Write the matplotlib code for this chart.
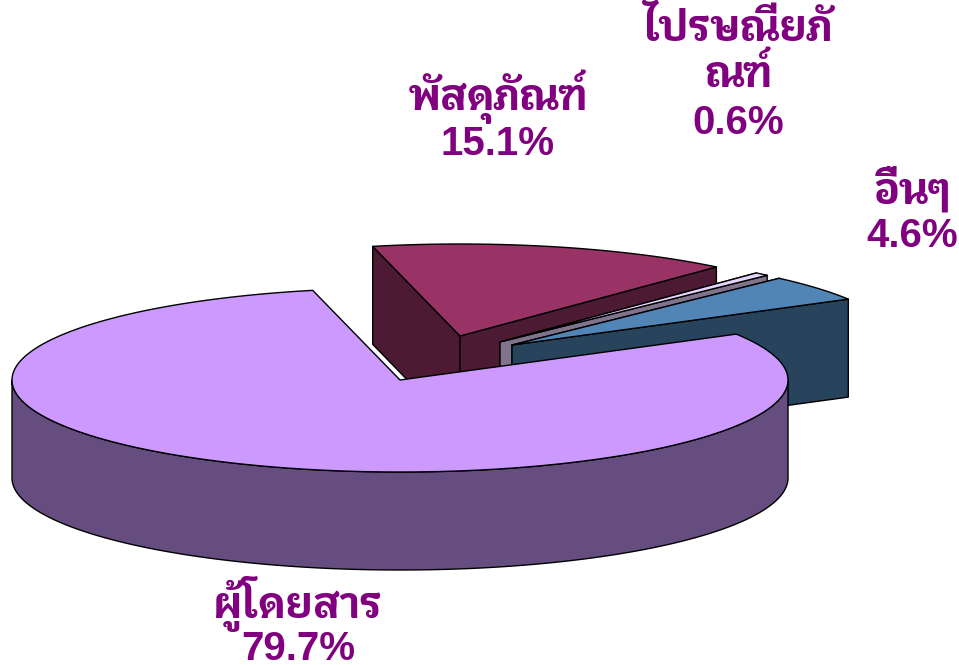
import numpy as np
import matplotlib
matplotlib.use('Agg')
import matplotlib.pyplot as plt
from matplotlib.patches import Polygon

categories = ["ผู้โดยสาร", "พัสดุภัณฑ์", "ไปรษณียภัณฑ์", "อื่นๆ"]
values = [79.7, 15.1, 0.6, 4.6]
value_labels = ["79.7%", "15.1%", "0.6%", "4.6%"]
top_colors = ["#CC99FF", "#993366", "#E6D5FF", "#5085B5"]
side_colors = ["#664D80", "#4D1A33", "#80738C", "#28435C"]

RX, RY, DEPTH = 388, 92, 98
START = 103.0
apexes = [(400, 380), (460, 336), (500, 342), (512, 345)]
TEXT = "#800080"
THAI = ['Krub', 'Sarabun', 'Noto Sans Thai', 'Liberation Sans', 'DejaVu Sans']
LATIN = ['Liberation Sans', 'DejaVu Sans']

fig = plt.figure(figsize=(9.59, 6.65), dpi=100)
ax = fig.add_axes([0, 0, 1, 1])
ax.set_xlim(0, 959)
ax.set_ylim(665, 0)
ax.axis('off')

def pt(apex, t, drop=0):
    r = np.radians(t)
    return np.column_stack([apex[0] + RX * np.cos(r), apex[1] - RY * np.sin(r) + drop])

def poly(xy, color, z):
    ax.add_patch(Polygon(xy, closed=True, facecolor=color, edgecolor='black',
                         linewidth=1.0, joinstyle='round', zorder=z))

total = sum(values)
spans = {}
cur = START
for i in [1, 2, 3, 0]:
    nxt = cur - values[i] / total * 360
    spans[i] = (cur, nxt)
    cur = nxt

z = 1
for i in [1, 2, 3, 0]:
    a = apexes[i]
    t0, t1 = spans[i]
    arc = pt(a, np.linspace(t0, t1, 240))
    ctr = np.array([a])
    if i == 0:
        ts = np.linspace(-180, 0, 240)
        front = pt(a, ts)
        back = pt(a, ts[::-1], DEPTH)
        poly(np.vstack([front, back]), side_colors[i], z); z += 1
    else:
        for t in (t0, t1):
            e = pt(a, np.array([t]))
            wall = np.vstack([ctr, e, e + [0, DEPTH], ctr + [0, DEPTH]])
            poly(wall, side_colors[i], z); z += 1
    poly(np.vstack([ctr, arc]), top_colors[i], z); z += 1

def label(x, y, s, fam, size=29):
    ax.text(x, y, s, color=TEXT, family=fam, fontweight='bold', fontsize=size,
            ha='center', va='baseline', zorder=50)

THAI_SIZE = 30
label(298, 618, categories[0], THAI, THAI_SIZE)
label(298, 660, value_labels[0], LATIN)
label(498, 110, categories[1], THAI, THAI_SIZE)
label(498, 155, value_labels[1], LATIN)
name = categories[2]
label(738, 41, name[:9], THAI, THAI_SIZE)
label(738, 87, name[9:], THAI, THAI_SIZE)
label(738, 134, value_labels[2], LATIN)
label(912, 203, categories[3], THAI, THAI_SIZE)
label(912, 247, value_labels[3], LATIN)

fig.savefig('out.png', dpi=100)
